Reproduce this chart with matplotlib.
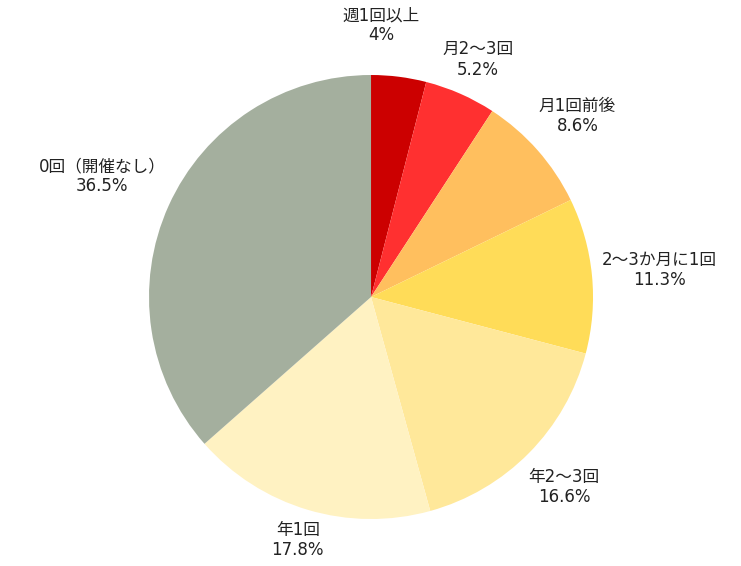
import matplotlib.pyplot as plt

plt.rcParams['font.family'] = ['DejaVu Sans', 'Noto Sans CJK JP']

# data: share of respondents by frequency
categories = ['週1回以上', '月2〜3回', '月1回前後', '2〜3か月に1回', '年2〜3回', '年1回', '0回（開催なし）']
values = [4, 5.2, 8.6, 11.3, 16.6, 17.8, 36.5]
colors = ['#CC0000', '#FF3030', '#FFBF5E', '#FFDC58', '#FFE89A', '#FFF2C2', '#A4AF9E']

# label positions in axes units (pie radius = 1)
label_pos = [(0.045, 1.225), (0.48, 1.07), (0.93, 0.815), (1.30, 0.12),
             (0.87, -0.855), (-0.33, -1.095), (-1.21, 0.545)]

fig = plt.figure(figsize=(7.41, 5.66), dpi=100)
ax = fig.add_axes([0.2011, 0.0830, 0.5992, 0.7845])
ax.pie(values, colors=colors, startangle=90, counterclock=False, radius=1,
       wedgeprops=dict(linewidth=0))
ax.set_xlim(-1, 1)
ax.set_ylim(-1, 1)
ax.set_aspect('equal')
ax.axis('off')

for cat, val, (x, y) in zip(categories, values, label_pos):
    pct = f"{val:g}%"
    ax.text(x, y, f"{cat}\n{pct}", ha='center', va='center', fontsize=12,
            linespacing=1.15, color='#222222', clip_on=False)

fig.savefig('out.png', dpi=100)
